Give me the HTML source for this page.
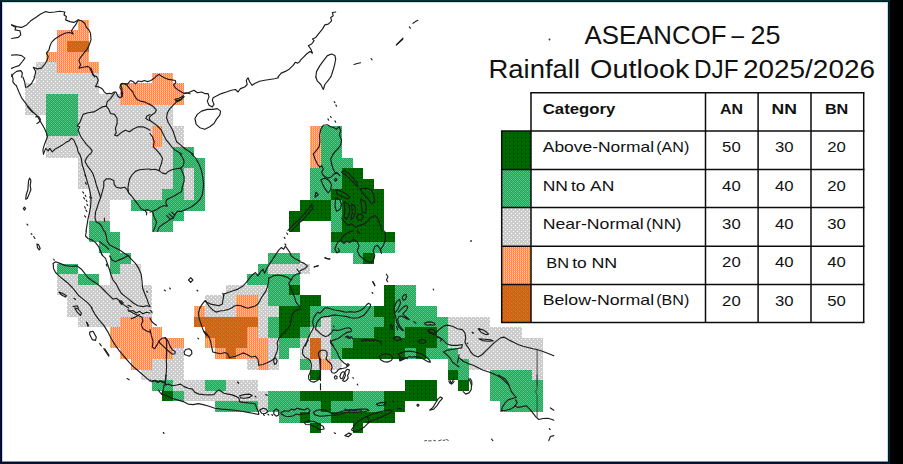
<!DOCTYPE html>
<html><head><meta charset="utf-8"><title>ASEANCOF-25 Rainfall Outlook</title>
<style>
html,body{margin:0;padding:0;background:#fff;}
body{width:903px;height:464px;overflow:hidden;position:relative;font-family:"Liberation Sans",sans-serif;}
#frame{position:absolute;left:0;top:0;width:903px;height:464px;}
svg{position:absolute;left:0;top:0;}
</style></head><body>
<svg id="map" width="903" height="464" viewBox="0 0 903 464">
<defs>
<pattern id="pg" width="4" height="4" patternUnits="userSpaceOnUse"><rect width="4" height="4" fill="#CCCCCC"/><rect x="3" y="1" width="1" height="1" fill="#fff"/><rect x="1" y="3" width="1" height="1" fill="#fff"/></pattern>
<pattern id="pl" width="4" height="4" patternUnits="userSpaceOnUse"><rect width="4" height="4" fill="#339966"/><rect x="0" y="0" width="1" height="1" fill="#33CC66"/><rect x="2" y="0" width="1" height="1" fill="#33CC66"/><rect x="1" y="1" width="1" height="1" fill="#33CC66"/><rect x="3" y="1" width="1" height="1" fill="#33CC66"/><rect x="0" y="2" width="1" height="1" fill="#33CC66"/><rect x="2" y="2" width="1" height="1" fill="#33CC66"/><rect x="1" y="3" width="1" height="1" fill="#33CC66"/><rect x="3" y="3" width="1" height="1" fill="#33CC66"/><rect x="1" y="1" width="1" height="1" fill="#66CC99"/><rect x="3" y="3" width="1" height="1" fill="#66CC99"/></pattern>
<pattern id="pd" width="4" height="4" patternUnits="userSpaceOnUse"><rect width="4" height="4" fill="#006600"/><rect x="1" y="1" width="1" height="1" fill="#003300"/></pattern>
<pattern id="po" width="2" height="2" patternUnits="userSpaceOnUse"><rect width="2" height="2" fill="#FF9966"/><rect x="0" y="1" width="1" height="1" fill="#FFCC66"/><rect x="1" y="1" width="1" height="1" fill="#CC9933"/></pattern>
<pattern id="pb" width="4" height="4" patternUnits="userSpaceOnUse"><rect width="4" height="4" fill="#CC6600"/><rect x="1" y="1" width="1" height="1" fill="#FF6633"/><rect x="3" y="3" width="1" height="1" fill="#FF6633"/><rect x="3" y="1" width="1" height="1" fill="#CC6633"/><rect x="1" y="3" width="1" height="1" fill="#CC6633"/><rect x="0" y="0" width="1" height="1" fill="#CC6633"/><rect x="2" y="2" width="1" height="1" fill="#CC6633"/><rect x="2" y="0" width="1" height="1" fill="#CC6633"/><rect x="0" y="2" width="1" height="1" fill="#CC6633"/></pattern>
</defs>
<rect x="0" y="0" width="903" height="464" fill="#ffffff"/>
<g shape-rendering="crispEdges">
<rect x="78" y="20" width="11" height="10" fill="url(#po)"/>
<rect x="57" y="30" width="32" height="11" fill="url(#po)"/>
<rect x="57" y="41" width="10" height="11" fill="url(#po)"/>
<rect x="67" y="41" width="22" height="11" fill="url(#pb)"/>
<rect x="46" y="52" width="43" height="10" fill="url(#po)"/>
<rect x="36" y="62" width="21" height="11" fill="url(#pg)"/>
<rect x="57" y="62" width="42" height="11" fill="url(#po)"/>
<rect x="36" y="73" width="63" height="10" fill="url(#pg)"/>
<rect x="152" y="73" width="21" height="10" fill="url(#po)"/>
<rect x="25" y="83" width="74" height="11" fill="url(#pg)"/>
<rect x="120" y="83" width="64" height="11" fill="url(#po)"/>
<rect x="25" y="94" width="21" height="11" fill="url(#pg)"/>
<rect x="46" y="94" width="32" height="11" fill="url(#pl)"/>
<rect x="78" y="94" width="42" height="11" fill="url(#pg)"/>
<rect x="120" y="94" width="64" height="11" fill="url(#po)"/>
<rect x="25" y="105" width="21" height="10" fill="url(#pg)"/>
<rect x="46" y="105" width="32" height="10" fill="url(#pl)"/>
<rect x="78" y="105" width="95" height="10" fill="url(#pg)"/>
<rect x="46" y="115" width="32" height="11" fill="url(#pl)"/>
<rect x="78" y="115" width="95" height="11" fill="url(#pg)"/>
<rect x="46" y="126" width="32" height="10" fill="url(#pl)"/>
<rect x="78" y="126" width="74" height="10" fill="url(#pg)"/>
<rect x="152" y="126" width="10" height="10" fill="url(#po)"/>
<rect x="162" y="126" width="22" height="10" fill="url(#pg)"/>
<rect x="310" y="126" width="11" height="10" fill="url(#po)"/>
<rect x="321" y="126" width="21" height="10" fill="url(#pl)"/>
<rect x="46" y="136" width="106" height="11" fill="url(#pg)"/>
<rect x="152" y="136" width="10" height="11" fill="url(#po)"/>
<rect x="162" y="136" width="22" height="11" fill="url(#pg)"/>
<rect x="310" y="136" width="11" height="11" fill="url(#po)"/>
<rect x="321" y="136" width="21" height="11" fill="url(#pl)"/>
<rect x="46" y="147" width="127" height="11" fill="url(#pg)"/>
<rect x="173" y="147" width="21" height="11" fill="url(#pl)"/>
<rect x="310" y="147" width="11" height="11" fill="url(#po)"/>
<rect x="321" y="147" width="21" height="11" fill="url(#pl)"/>
<rect x="78" y="158" width="95" height="10" fill="url(#pg)"/>
<rect x="173" y="158" width="32" height="10" fill="url(#pl)"/>
<rect x="310" y="158" width="11" height="10" fill="url(#po)"/>
<rect x="321" y="158" width="32" height="10" fill="url(#pl)"/>
<rect x="78" y="168" width="95" height="11" fill="url(#pg)"/>
<rect x="173" y="168" width="11" height="11" fill="url(#pl)"/>
<rect x="184" y="168" width="10" height="11" fill="url(#pg)"/>
<rect x="194" y="168" width="11" height="11" fill="url(#pl)"/>
<rect x="310" y="168" width="32" height="11" fill="url(#pl)"/>
<rect x="342" y="168" width="21" height="11" fill="url(#pd)"/>
<rect x="78" y="179" width="95" height="10" fill="url(#pg)"/>
<rect x="173" y="179" width="11" height="10" fill="url(#pl)"/>
<rect x="184" y="179" width="10" height="10" fill="url(#pg)"/>
<rect x="194" y="179" width="11" height="10" fill="url(#pl)"/>
<rect x="310" y="179" width="32" height="10" fill="url(#pl)"/>
<rect x="342" y="179" width="32" height="10" fill="url(#pd)"/>
<rect x="89" y="189" width="73" height="11" fill="url(#pg)"/>
<rect x="162" y="189" width="22" height="11" fill="url(#pl)"/>
<rect x="184" y="189" width="10" height="11" fill="url(#pg)"/>
<rect x="194" y="189" width="11" height="11" fill="url(#pl)"/>
<rect x="310" y="189" width="21" height="11" fill="url(#pl)"/>
<rect x="331" y="189" width="53" height="11" fill="url(#pd)"/>
<rect x="89" y="200" width="21" height="11" fill="url(#pg)"/>
<rect x="131" y="200" width="74" height="11" fill="url(#pl)"/>
<rect x="300" y="200" width="31" height="11" fill="url(#pd)"/>
<rect x="331" y="200" width="11" height="11" fill="url(#pl)"/>
<rect x="342" y="200" width="42" height="11" fill="url(#pd)"/>
<rect x="89" y="211" width="21" height="10" fill="url(#pg)"/>
<rect x="152" y="211" width="32" height="10" fill="url(#pl)"/>
<rect x="289" y="211" width="42" height="10" fill="url(#pd)"/>
<rect x="331" y="211" width="11" height="10" fill="url(#pl)"/>
<rect x="342" y="211" width="42" height="10" fill="url(#pd)"/>
<rect x="89" y="221" width="21" height="11" fill="url(#pl)"/>
<rect x="152" y="221" width="21" height="11" fill="url(#pl)"/>
<rect x="289" y="221" width="11" height="11" fill="url(#pd)"/>
<rect x="331" y="221" width="11" height="11" fill="url(#pl)"/>
<rect x="342" y="221" width="42" height="11" fill="url(#pd)"/>
<rect x="89" y="232" width="31" height="10" fill="url(#pl)"/>
<rect x="331" y="232" width="64" height="10" fill="url(#pd)"/>
<rect x="99" y="242" width="21" height="11" fill="url(#pl)"/>
<rect x="331" y="242" width="64" height="11" fill="url(#pl)"/>
<rect x="110" y="253" width="21" height="11" fill="url(#pl)"/>
<rect x="268" y="253" width="32" height="11" fill="url(#pl)"/>
<rect x="353" y="253" width="10" height="11" fill="url(#pl)"/>
<rect x="363" y="253" width="11" height="11" fill="url(#pd)"/>
<rect x="57" y="264" width="21" height="10" fill="url(#pl)"/>
<rect x="110" y="264" width="10" height="10" fill="url(#pl)"/>
<rect x="120" y="264" width="21" height="10" fill="url(#pg)"/>
<rect x="258" y="264" width="10" height="10" fill="url(#pl)"/>
<rect x="268" y="264" width="42" height="10" fill="url(#pg)"/>
<rect x="57" y="274" width="21" height="11" fill="url(#pg)"/>
<rect x="78" y="274" width="21" height="11" fill="url(#pl)"/>
<rect x="110" y="274" width="31" height="11" fill="url(#pg)"/>
<rect x="247" y="274" width="53" height="11" fill="url(#pl)"/>
<rect x="57" y="285" width="95" height="10" fill="url(#pg)"/>
<rect x="226" y="285" width="42" height="10" fill="url(#pg)"/>
<rect x="268" y="285" width="21" height="10" fill="url(#pl)"/>
<rect x="289" y="285" width="11" height="10" fill="url(#pd)"/>
<rect x="384" y="285" width="11" height="10" fill="url(#pd)"/>
<rect x="395" y="285" width="21" height="10" fill="url(#pl)"/>
<rect x="67" y="295" width="85" height="11" fill="url(#pg)"/>
<rect x="205" y="295" width="31" height="11" fill="url(#pg)"/>
<rect x="236" y="295" width="22" height="11" fill="url(#po)"/>
<rect x="258" y="295" width="10" height="11" fill="url(#pg)"/>
<rect x="268" y="295" width="32" height="11" fill="url(#pl)"/>
<rect x="300" y="295" width="21" height="11" fill="url(#pd)"/>
<rect x="384" y="295" width="11" height="11" fill="url(#pd)"/>
<rect x="395" y="295" width="21" height="11" fill="url(#pl)"/>
<rect x="67" y="306" width="85" height="11" fill="url(#pg)"/>
<rect x="194" y="306" width="11" height="11" fill="url(#po)"/>
<rect x="205" y="306" width="31" height="11" fill="url(#pg)"/>
<rect x="236" y="306" width="22" height="11" fill="url(#po)"/>
<rect x="258" y="306" width="21" height="11" fill="url(#pg)"/>
<rect x="279" y="306" width="31" height="11" fill="url(#pd)"/>
<rect x="310" y="306" width="64" height="11" fill="url(#pl)"/>
<rect x="374" y="306" width="21" height="11" fill="url(#pd)"/>
<rect x="395" y="306" width="42" height="11" fill="url(#pl)"/>
<rect x="78" y="317" width="42" height="10" fill="url(#pg)"/>
<rect x="120" y="317" width="32" height="10" fill="url(#po)"/>
<rect x="194" y="317" width="64" height="10" fill="url(#pb)"/>
<rect x="258" y="317" width="10" height="10" fill="url(#pg)"/>
<rect x="268" y="317" width="11" height="10" fill="url(#pl)"/>
<rect x="279" y="317" width="31" height="10" fill="url(#pd)"/>
<rect x="310" y="317" width="11" height="10" fill="url(#pl)"/>
<rect x="321" y="317" width="10" height="10" fill="url(#pg)"/>
<rect x="331" y="317" width="53" height="10" fill="url(#pl)"/>
<rect x="384" y="317" width="11" height="10" fill="url(#pd)"/>
<rect x="395" y="317" width="53" height="10" fill="url(#pl)"/>
<rect x="448" y="317" width="42" height="10" fill="url(#pg)"/>
<rect x="110" y="327" width="52" height="11" fill="url(#po)"/>
<rect x="205" y="327" width="42" height="11" fill="url(#pb)"/>
<rect x="247" y="327" width="11" height="11" fill="url(#po)"/>
<rect x="258" y="327" width="10" height="11" fill="url(#pg)"/>
<rect x="268" y="327" width="11" height="11" fill="url(#pl)"/>
<rect x="279" y="327" width="21" height="11" fill="url(#pd)"/>
<rect x="300" y="327" width="10" height="11" fill="url(#pl)"/>
<rect x="310" y="327" width="21" height="11" fill="url(#pg)"/>
<rect x="331" y="327" width="43" height="11" fill="url(#pl)"/>
<rect x="374" y="327" width="21" height="11" fill="url(#pd)"/>
<rect x="395" y="327" width="10" height="11" fill="url(#pl)"/>
<rect x="405" y="327" width="32" height="11" fill="url(#pd)"/>
<rect x="437" y="327" width="11" height="11" fill="url(#pl)"/>
<rect x="448" y="327" width="74" height="11" fill="url(#pg)"/>
<rect x="110" y="338" width="74" height="10" fill="url(#po)"/>
<rect x="205" y="338" width="10" height="10" fill="url(#po)"/>
<rect x="215" y="338" width="32" height="10" fill="url(#pb)"/>
<rect x="247" y="338" width="21" height="10" fill="url(#po)"/>
<rect x="268" y="338" width="11" height="10" fill="url(#pg)"/>
<rect x="279" y="338" width="21" height="10" fill="url(#pl)"/>
<rect x="300" y="338" width="10" height="10" fill="url(#pg)"/>
<rect x="310" y="338" width="11" height="10" fill="url(#pb)"/>
<rect x="321" y="338" width="10" height="10" fill="url(#pg)"/>
<rect x="331" y="338" width="22" height="10" fill="url(#pl)"/>
<rect x="353" y="338" width="84" height="10" fill="url(#pd)"/>
<rect x="437" y="338" width="11" height="10" fill="url(#pl)"/>
<rect x="448" y="338" width="95" height="10" fill="url(#pg)"/>
<rect x="120" y="348" width="53" height="11" fill="url(#po)"/>
<rect x="173" y="348" width="11" height="11" fill="url(#pg)"/>
<rect x="215" y="348" width="11" height="11" fill="url(#po)"/>
<rect x="226" y="348" width="10" height="11" fill="url(#pb)"/>
<rect x="236" y="348" width="32" height="11" fill="url(#po)"/>
<rect x="268" y="348" width="11" height="11" fill="url(#pg)"/>
<rect x="279" y="348" width="10" height="11" fill="url(#pl)"/>
<rect x="300" y="348" width="10" height="11" fill="url(#pg)"/>
<rect x="310" y="348" width="11" height="11" fill="url(#pb)"/>
<rect x="321" y="348" width="10" height="11" fill="url(#pg)"/>
<rect x="331" y="348" width="11" height="11" fill="url(#pl)"/>
<rect x="342" y="348" width="63" height="11" fill="url(#pd)"/>
<rect x="405" y="348" width="11" height="11" fill="url(#pl)"/>
<rect x="416" y="348" width="10" height="11" fill="url(#pd)"/>
<rect x="426" y="348" width="32" height="11" fill="url(#pl)"/>
<rect x="458" y="348" width="85" height="11" fill="url(#pg)"/>
<rect x="131" y="359" width="21" height="11" fill="url(#po)"/>
<rect x="152" y="359" width="32" height="11" fill="url(#pg)"/>
<rect x="247" y="359" width="11" height="11" fill="url(#pg)"/>
<rect x="258" y="359" width="10" height="11" fill="url(#po)"/>
<rect x="268" y="359" width="11" height="11" fill="url(#pg)"/>
<rect x="300" y="359" width="10" height="11" fill="url(#pl)"/>
<rect x="310" y="359" width="11" height="11" fill="url(#pg)"/>
<rect x="321" y="359" width="10" height="11" fill="url(#po)"/>
<rect x="331" y="359" width="11" height="11" fill="url(#pg)"/>
<rect x="448" y="359" width="21" height="11" fill="url(#pl)"/>
<rect x="469" y="359" width="74" height="11" fill="url(#pg)"/>
<rect x="141" y="370" width="43" height="10" fill="url(#pg)"/>
<rect x="310" y="370" width="11" height="10" fill="url(#pd)"/>
<rect x="448" y="370" width="10" height="10" fill="url(#pd)"/>
<rect x="458" y="370" width="11" height="10" fill="url(#pl)"/>
<rect x="490" y="370" width="42" height="10" fill="url(#pl)"/>
<rect x="532" y="370" width="11" height="10" fill="url(#pg)"/>
<rect x="152" y="380" width="21" height="11" fill="url(#pl)"/>
<rect x="173" y="380" width="32" height="11" fill="url(#pg)"/>
<rect x="205" y="380" width="21" height="11" fill="url(#pl)"/>
<rect x="226" y="380" width="32" height="11" fill="url(#pg)"/>
<rect x="405" y="380" width="32" height="11" fill="url(#pd)"/>
<rect x="458" y="380" width="11" height="11" fill="url(#pd)"/>
<rect x="490" y="380" width="53" height="11" fill="url(#pl)"/>
<rect x="162" y="391" width="11" height="10" fill="url(#pd)"/>
<rect x="173" y="391" width="11" height="10" fill="url(#pl)"/>
<rect x="184" y="391" width="84" height="10" fill="url(#pg)"/>
<rect x="268" y="391" width="32" height="10" fill="url(#pl)"/>
<rect x="300" y="391" width="53" height="10" fill="url(#pd)"/>
<rect x="353" y="391" width="31" height="10" fill="url(#pl)"/>
<rect x="384" y="391" width="53" height="10" fill="url(#pd)"/>
<rect x="490" y="391" width="53" height="10" fill="url(#pl)"/>
<rect x="215" y="401" width="43" height="11" fill="url(#pl)"/>
<rect x="258" y="401" width="10" height="11" fill="url(#pg)"/>
<rect x="268" y="401" width="53" height="11" fill="url(#pl)"/>
<rect x="321" y="401" width="10" height="11" fill="url(#pd)"/>
<rect x="331" y="401" width="53" height="11" fill="url(#pl)"/>
<rect x="384" y="401" width="21" height="11" fill="url(#pd)"/>
<rect x="500" y="401" width="43" height="11" fill="url(#pl)"/>
<rect x="279" y="412" width="21" height="11" fill="url(#pl)"/>
<rect x="300" y="412" width="10" height="11" fill="url(#pd)"/>
<rect x="310" y="412" width="21" height="11" fill="url(#pl)"/>
<rect x="331" y="412" width="64" height="11" fill="url(#pd)"/>
<rect x="310" y="423" width="11" height="10" fill="url(#pd)"/>
<rect x="353" y="423" width="10" height="10" fill="url(#pd)"/>
</g>
<g id="coast" fill="none" stroke="#1c1c1c" stroke-width="1.15" stroke-linejoin="round" stroke-linecap="round">
<path d="M11.6,24.9 L16.6,26.6 L21.6,27.4 L26.6,24.9 L30.7,20.8 L35.7,17.4 L40.7,14.1 L45.7,11.6 L49.8,12.5 L54.8,12.0 L59.8,11.3 L64.8,12.0 L64.0,15.0 L66.4,16.6 L65.6,19.9 L69.8,21.6 L73.9,22.4 L78.1,19.9 L81.4,20.8 L84.7,23.3 L86.4,27.4 L88.9,29.9 L90.5,33.2 L91.0,39.9 L88.9,45.7 L87.2,49.0 L83.9,53.2 L80.6,57.3 L78.9,60.6 L80.6,64.8 L78.9,68.1 L83.1,67.3 L88.0,66.4 L91.4,68.9 L93.0,73.9 L94.7,77.1"/>
<path d="M11.6,24.9 L15.8,27.4 L15.0,29.9 L19.9,30.7 L20.8,34.9 L18.3,37.4 L11.6,38.5"/>
<path d="M78.1,19.9 L75.6,24.9 L73.1,28.2 L71.4,30.7 L73.1,34.1 L69.8,32.4 L64.8,33.2 L59.8,35.7 L54.8,39.0 L51.5,42.4 L49.8,46.5 L49.0,49.8 L46.5,53.2 L48.2,56.5 L47.3,59.8 L44.9,64.0 L41.5,68.1 L37.4,68.9 L33.2,67.3 L35.7,71.4 L34.9,75.6 L34.1,77.1"/>
<path d="M11.6,55.1 L16.6,54.8 L21.6,55.6 L24.9,58.1 L22.4,61.5 L19.1,65.6 L14.1,67.3 L11.6,68.4"/>
<path d="M11.6,76.4 L13.3,73.9 L16.6,71.4 L20.8,70.6 L22.4,73.1 L21.6,77.1"/>
<path d="M16.3,85.6 L17.9,89.5 L19.6,93.6 L21.6,97.8 L24.6,101.9 L27.4,105.6 L30.7,109.4 L33.2,112.2 L36.9,115.5 L39.5,119.9 L41.9,124.0 L44.5,128.5 L46.5,133.1 L47.5,136.8 L45.8,141.0 L44.2,145.1 L42.9,150.1 L43.5,154.1"/>
<path d="M22.9,77.0 L24.6,81.7 L25.6,87.3 L27.4,87.0 L31.2,84.0 L33.7,79.5 L34.9,77.0"/>
<path d="M27.4,106.6 L29.9,109.4 L32.4,112.2"/>
<path d="M35.7,116.9 L38.5,116.2 L40.4,119.4 L39.0,122.2 L36.9,123.5"/>
<path d="M43.5,154.1 L45.7,148.4 L48.2,150.9 L49.8,148.4 L52.3,151.8 L54.8,149.3 L58.1,147.6 L62.3,145.1 L65.6,142.6 L68.9,141.0 L71.4,138.1 L73.9,140.1 L75.6,144.3 L77.2,147.6 L78.1,151.8 L79.4,154.1"/>
<path d="M114.6,92.8 L110.5,98.6 L107.1,101.9 L106.3,106.1"/>
<path d="M106.3,106.1 L102.2,106.9 L98.0,109.4 L93.9,111.9 L88.0,112.7 L83.1,114.4 L81.4,118.5 L79.7,122.7 L77.2,126.0 L79.7,126.8 L78.1,130.2 L79.7,134.3 L81.4,137.6 L83.9,141.0 L86.4,144.3 L89.7,147.6 L92.2,150.9 L90.5,154.1"/>
<path d="M106.3,106.1 L108.8,109.4 L110.5,113.5 L114.6,114.4 L117.1,118.5 L117.1,123.5 L115.4,128.5 L116.3,132.6 L114.6,135.1 L117.1,136.0 L121.3,132.6 L125.4,130.2 L129.6,131.8 L132.9,129.3 L137.9,126.8 L142.9,126.8 L147.0,128.5 L150.0,130.2"/>
<path d="M122.1,96.9 L121.3,93.6 L122.1,88.6 L120.4,84.5 L123.8,83.6 L127.1,85.3 L129.6,88.6 L132.9,92.0 L134.6,96.1 L137.0,99.4 L140.4,101.1 L144.5,101.9 L147.8,103.6 L150.0,104.4"/>
<path d="M150.0,114.4 L147.0,116.0 L145.8,118.5 L148.7,120.2 L150.0,120.5"/>
<path d="M277.9,77.1 L281.2,73.1 L285.4,71.4 L289.5,68.9 L292.9,65.6 L295.3,62.3 L297.8,63.1 L300.0,61.5"/>
<path d="M300.0,60.6 L303.3,57.3 L306.6,54.0 L310.0,51.5 L312.5,53.2 L310.8,49.0 L308.3,45.7 L311.6,44.0 L314.1,40.7 L312.5,39.0 L315.8,37.4 L319.1,33.2 L322.4,29.1 L324.9,24.9 L328.2,24.1 L331.6,20.8 L330.7,17.4 L333.2,15.8 L332.4,12.5 L335.7,12.0"/>
<path d="M315.8,77.1 L316.6,71.4 L319.9,65.6 L324.1,59.8 L327.4,55.6 L331.6,54.0 L334.9,55.6 L335.7,59.0 L334.6,64.8 L333.2,69.8 L331.6,74.8 L330.7,77.1"/>
<path d="M354.0,64.5 L357.3,63.5 L360.6,62.8"/>
<path d="M371.1,58.5 L372.1,59.8"/>
<path d="M396.3,45.2 L399.7,41.5 L403.0,38.2"/>
<path d="M396.8,44.5 L402.7,39.2"/>
<path d="M409.3,26.9 L410.3,28.2"/>
<path d="M413.0,23.3 L415.4,21.6 L417.9,20.3"/>
<path d="M184.1,93.6 L188.2,92.8 L194.0,90.3 L197.3,92.8 L201.5,92.0 L204.8,93.6 L208.1,93.6 L209.0,96.9 L207.3,101.1 L209.0,105.2 L212.3,106.9 L214.0,104.4 L212.3,100.3 L213.1,97.8 L216.4,96.1 L221.4,93.6 L226.4,92.0 L231.4,90.3 L235.5,89.5 L238.0,92.0 L240.5,88.6 L244.7,87.0 L247.2,84.5 L246.3,80.3 L248.0,77.8 L249.7,82.0 L252.2,85.3 L254.7,83.6 L259.6,81.2 L264.6,80.3 L269.6,79.5 L274.6,78.7 L278.7,77.8"/>
<path d="M194.9,118.5 L197.3,114.4 L201.5,111.1 L207.3,109.4 L213.1,109.4 L217.3,108.6 L220.6,111.1 L219.8,115.2 L216.4,119.4 L214.0,123.5 L209.8,126.8 L204.8,129.3 L199.8,127.7 L196.2,124.3 Z"/>
<path d="M183.2,95.3 L181.6,99.4 L176.6,101.9 L173.3,105.2 L169.9,108.6 L167.4,112.7 L166.6,117.7 L168.3,122.7 L170.8,126.8 L173.3,131.8 L174.9,136.8 L176.6,141.8 L180.7,145.1 L185.7,149.3 L190.7,152.6 L193.2,154.1"/>
<path d="M174.9,99.4 L179.1,98.3 L182.4,96.6"/>
<path d="M175.7,101.1 L180.7,99.4"/>
<path d="M150.0,104.4 L153.3,106.6 L156.3,109.9 L155.0,112.7 L151.7,114.9 L149.2,117.7 L150.0,120.5 L154.2,123.5 L157.5,126.0 L160.8,129.3 L163.3,134.3 L165.8,139.3 L169.1,143.4 L172.4,147.6 L174.9,150.1 L179.1,152.6 L181.6,154.1"/>
<path d="M150.0,133.5 L152.5,136.8 L154.2,141.8 L153.3,146.8 L156.6,150.1 L160.0,154.1"/>
<path d="M315.8,77.0 L317.4,81.2 L320.8,84.5 L323.3,89.5 L324.9,84.5 L328.2,80.3 L330.7,77.0"/>
<path d="M334.2,101.6 L334.9,102.6"/>
<path d="M335.9,104.9 L336.5,106.2"/>
<path d="M327.9,118.9 L328.7,120.2"/>
<path d="M330.4,116.5 L331.2,117.5"/>
<path d="M334.9,120.9 L335.7,122.2"/>
<path d="M313.3,154.1 L316.6,150.1 L319.1,146.8 L319.9,141.8 L319.6,135.1 L320.8,129.3 L323.3,125.2 L327.4,124.8 L330.7,126.8 L334.1,127.7 L336.5,129.3 L339.0,126.8 L340.7,130.2 L339.5,135.1 L341.5,140.1 L340.7,145.1 L338.2,148.4 L334.9,151.8 L333.2,154.1"/>
<path d="M29.6,178.1 L30.9,180.6 L30.2,185.6 L30.9,189.7 L29.2,193.9 L27.2,198.5 L25.7,199.2 L26.2,194.7 L27.9,189.7 L28.2,184.7 L28.6,180.6 Z"/>
<path d="M23.3,208.5 L24.4,207.2 L25.6,208.5 L24.4,210.1 Z"/>
<path d="M26.9,224.1 L27.9,225.1"/>
<path d="M79.7,154.0 L81.4,159.0 L82.2,164.8 L83.9,169.8 L85.5,175.6 L87.2,181.4 L88.9,187.2 L90.5,193.9 L91.0,200.5 L90.5,207.2 L89.4,213.0 L88.0,218.8 L87.2,223.8 L86.0,231.1"/>
<path d="M89.7,154.0 L86.4,158.2 L85.0,161.5 L87.2,165.6 L90.5,169.8 L93.0,173.9 L94.7,178.9 L96.3,184.7 L98.0,189.7 L99.7,194.7 L100.5,198.0 L98.8,202.2 L97.2,207.2 L95.5,212.1 L95.0,218.0 L96.3,222.1 L99.7,223.8 L102.2,227.1 L103.8,231.1"/>
<path d="M100.5,198.0 L102.2,192.2 L103.8,186.4 L103.8,181.4 L106.3,178.9 L110.5,178.9 L113.8,180.6 L114.3,184.7 L116.3,187.2 L120.4,188.1 L124.6,187.2 L127.1,189.7 L128.7,193.0 L131.2,195.5 L133.7,198.9 L136.2,202.2 L138.7,205.5 L141.2,208.8 L144.5,210.5 L147.0,209.6 L150.0,210.5"/>
<path d="M128.7,193.0 L127.9,188.1 L128.7,183.1 L129.6,178.9 L132.1,174.8 L135.4,171.4 L139.5,169.8 L144.5,169.3 L150.0,169.0"/>
<path d="M145.5,211.5 L146.8,212.5 L146.5,214.8"/>
<path d="M82.7,191.9 L83.7,193.2"/>
<path d="M85.2,195.2 L86.0,196.5"/>
<path d="M83.7,197.5 L84.6,198.9"/>
<path d="M86.2,200.2 L87.0,201.5"/>
<path d="M84.6,206.8 L85.4,208.2"/>
<path d="M86.9,204.2 L87.7,205.5"/>
<path d="M84.6,215.8 L85.7,217.1"/>
<path d="M86.0,210.1 L86.9,211.5"/>
<path d="M89.7,196.9 L91.7,197.9"/>
<path d="M85.0,174.8 L85.7,176.4"/>
<path d="M85.5,182.6 L86.4,184.2"/>
<path d="M104.3,218.0 L104.7,221.3"/>
<path d="M191.5,154.0 L195.7,158.2 L199.0,164.0 L201.5,170.6 L202.8,177.3 L203.5,183.9 L203.2,188.9 L202.3,194.7 L199.8,199.7 L195.7,203.8 L190.7,207.2 L185.7,209.6 L181.6,211.3 L177.4,211.3 L174.9,214.6 L173.3,218.0 L169.9,219.6 L166.6,222.1 L162.5,224.6 L159.1,227.1 L157.5,231.1"/>
<path d="M166.6,215.5 L170.8,219.6"/>
<path d="M169.1,213.8 L173.3,218.0"/>
<path d="M171.6,212.1 L174.9,215.5"/>
<path d="M179.9,154.0 L182.4,157.3 L184.1,161.5 L183.2,165.6 L180.7,168.1 L182.4,172.3 L184.1,176.4 L184.1,181.4 L182.4,186.4 L181.6,191.4 L177.4,193.9 L173.3,196.4 L169.9,198.0 L166.6,199.7 L165.8,203.0 L167.4,206.3 L164.1,205.5 L160.0,207.2 L156.6,209.6 L152.5,211.3 L150.0,212.1"/>
<path d="M150.0,169.8 L155.0,169.3 L159.1,170.6 L162.5,173.1 L165.8,173.9 L168.3,171.4 L171.6,169.8 L174.9,169.0 L180.7,168.1"/>
<path d="M160.0,154.0 L162.5,158.2 L161.6,163.1 L160.0,167.3 L159.1,170.6"/>
<path d="M152.5,211.3 L154.2,217.1 L156.6,222.1 L155.0,227.1 L153.3,231.1"/>
<path d="M300.0,218.8 L294.5,223.8 L287.9,230.4"/>
<path d="M300.0,222.1 L295.3,227.1 L291.2,231.1"/>
<path d="M313.3,154.0 L315.0,159.0 L317.4,164.0 L319.9,167.3 L321.6,165.6 L323.3,169.0 L321.6,172.3 L323.3,175.6 L327.4,178.1 L330.7,177.3 L334.1,173.9 L337.4,173.1 L339.9,175.6"/>
<path d="M333.2,154.0 L330.7,159.0 L331.6,164.0 L333.2,169.0 L334.9,172.3 L337.4,173.1"/>
<path d="M320.8,179.7 L324.9,178.1 L329.1,180.6 L331.6,184.7 L330.7,189.7 L328.2,193.0 L325.7,189.7 L323.3,185.6 Z"/>
<path d="M315.8,192.2 L318.3,194.7 L315.0,197.2 Z"/>
<path d="M334.4,179.7 L335.7,178.4 L337.0,179.7 L335.7,181.1 Z"/>
<path d="M341.5,172.3 L346.5,175.6 L351.5,180.6 L355.6,184.7 L358.1,187.2 L356.5,182.2 L352.3,177.3 L348.2,173.1 L344.0,170.6 Z"/>
<path d="M359.8,188.9 L366.4,188.1 L371.4,189.7 L373.9,195.5 L374.8,202.2 L371.4,203.8 L368.1,198.9 L364.0,194.7 Z"/>
<path d="M335.7,189.7 L341.5,191.4 L346.5,193.9 L349.8,197.2 L347.3,198.9 L342.4,196.4 L337.4,194.7 Z"/>
<path d="M335.7,198.0 L339.9,199.7 L341.5,204.7 L339.9,209.6 L336.5,211.3 L334.9,206.3 Z"/>
<path d="M344.0,202.2 L348.2,203.8 L349.8,208.8 L349.0,214.6 L346.5,219.6 L344.0,217.1 L344.9,210.5 Z"/>
<path d="M351.5,203.8 L354.8,206.3 L355.6,212.1 L353.2,218.0 L350.7,219.6 L352.3,213.0 Z"/>
<path d="M360.6,198.9 L364.8,201.3 L366.4,207.2 L365.6,213.0 L362.3,212.1 L361.5,205.5 Z"/>
<path d="M356.5,217.1 L358.1,214.6 L361.5,214.1 L363.5,216.8 L361.8,219.6 L358.5,220.1 Z"/>
<path d="M341.5,218.0 L344.9,222.1 L348.2,225.4 L351.5,223.8 L355.6,227.1 L359.8,225.4 L364.8,223.8 L368.1,220.4 L371.4,217.1 L374.8,215.5 L378.1,218.8 L379.7,223.8 L381.4,228.8 L382.2,231.1"/>
<path d="M300.0,218.8 L304.2,213.8 L307.5,209.6 L310.0,207.2 L311.6,203.8 L312.5,208.8 L309.1,212.1 L305.8,216.3 L302.5,220.4 L300.0,222.1"/>
<path d="M31.2,233.7 L31.9,234.3"/>
<path d="M33.7,236.5 L34.9,238.5"/>
<path d="M36.9,244.0 L38.5,244.6 L40.2,248.4 L39.2,249.9 L37.5,247.6 Z"/>
<path d="M86.4,231.0 L85.5,236.0 L88.0,238.5 L92.2,240.1 L95.5,242.6 L98.8,246.8 L100.5,251.8 L102.2,255.1 L105.5,258.4 L107.6,264.2 L109.6,270.0 L111.0,275.0 L113.0,280.0 L116.3,284.2 L118.8,289.1 L121.3,293.3 L125.4,296.6 L129.6,299.9 L133.7,303.3 L137.9,305.8 L142.9,306.6 L147.0,305.8 L150.0,306.6"/>
<path d="M104.7,231.0 L106.3,236.0 L107.1,241.0 L109.6,245.1 L114.6,247.6 L119.6,250.1 L124.6,253.4 L128.7,255.9 L131.2,259.2 L135.4,263.4 L138.7,268.4 L141.2,274.2 L142.0,280.8 L142.5,287.5 L144.5,293.3 L147.0,299.1 L148.7,304.1 L150.0,306.6"/>
<path d="M109.6,255.9 L112.1,260.1 L115.4,261.7 L118.8,260.1 L122.9,258.4 L127.1,255.9 L128.7,255.9"/>
<path d="M99.7,241.8 L103.0,244.3 L106.3,246.8 L108.8,249.3"/>
<path d="M100.5,250.9 L102.2,255.1"/>
<path d="M106.3,264.2 L107.1,266.2"/>
<path d="M53.2,263.4 L55.6,261.7 L59.8,263.4 L65.6,265.6 L71.4,266.2 L77.2,265.9 L81.4,269.2 L84.7,273.4 L88.0,277.5 L92.2,280.8 L96.3,283.3 L100.5,286.6 L103.8,290.0 L107.1,293.3 L110.5,296.6 L113.0,299.1 L116.3,298.3 L119.6,300.8 L122.9,304.1 L126.2,306.6 L128.7,308.1"/>
<path d="M53.2,263.4 L53.5,268.4 L55.6,272.5 L59.0,275.9 L63.1,279.2 L68.1,283.3 L72.3,287.5 L75.6,291.6 L78.9,295.8 L83.1,299.1 L87.2,302.4 L90.5,305.8 L92.2,308.1"/>
<path d="M53.7,259.2 L54.3,260.1"/>
<path d="M59.0,292.1 L62.3,293.3 L66.4,295.8 L65.6,297.1 L61.5,295.0 Z"/>
<path d="M73.9,298.3 L75.6,299.4"/>
<path d="M73.1,306.6 L77.2,305.8 L78.4,308.1"/>
<path d="M119.3,301.6 L121.3,300.8 L123.3,302.8 L121.6,304.4 Z"/>
<path d="M146.7,291.3 L147.5,292.1"/>
<path d="M127.9,305.3 L131.2,306.6"/>
<path d="M199.8,308.1 L202.3,304.1 L204.8,300.8 L207.3,302.4 L210.6,304.1 L214.8,304.9 L218.9,305.8 L222.3,304.1 L223.1,299.1 L223.9,294.1 L228.1,292.5 L233.1,290.8 L238.0,289.1 L242.2,286.6 L245.5,283.3 L248.8,279.2 L252.2,275.0 L255.5,272.5 L258.0,275.9 L260.5,271.7 L263.0,269.2 L264.6,273.4 L266.3,269.2 L268.8,265.1 L272.1,260.1 L275.4,255.1 L278.7,250.1 L281.2,247.6 L283.7,249.3 L285.4,246.0 L287.0,248.4 L289.5,251.8 L291.2,255.9 L294.5,258.4 L297.8,260.1 L300.0,260.9"/>
<path d="M268.8,278.3 L272.9,275.9 L277.9,275.0 L282.9,275.9 L287.9,277.5 L291.2,280.0 L292.9,276.7 L296.2,274.2 L300.0,273.4"/>
<path d="M291.2,280.0 L288.7,283.3 L290.4,287.5 L292.9,292.5 L294.5,297.4 L296.2,302.4 L298.7,305.8 L300.0,306.6"/>
<path d="M297.0,269.2 L298.7,271.7 L300.0,272.5"/>
<path d="M188.5,280.0 L190.7,277.7 L192.9,280.0 L190.7,282.3 Z"/>
<path d="M164.3,290.0 L165.3,290.8"/>
<path d="M169.6,288.0 L170.4,288.8"/>
<path d="M197.0,290.1 L197.8,291.0"/>
<path d="M284.2,237.3 L285.0,238.3"/>
<path d="M286.7,233.0 L287.7,234.3"/>
<path d="M284.9,244.0 L285.9,245.0"/>
<path d="M222.8,293.3 L223.8,295.5"/>
<path d="M335.7,246.8 L337.4,242.6 L340.7,240.1 L344.0,243.5 L346.5,241.0 L349.8,242.6 L353.2,239.3 L357.3,241.8 L359.0,246.0 L357.3,250.9 L359.8,255.9 L364.0,259.2 L368.1,261.7 L371.4,262.6 L373.9,259.2 L374.8,255.1 L373.1,250.9 L374.8,246.8 L377.2,245.1 L379.7,248.4 L381.4,253.4 L380.6,249.3 L383.1,246.0 L384.7,241.8 L385.5,236.8 L384.7,231.0"/>
<path d="M335.7,246.8 L334.9,249.3 L336.9,252.9 L339.5,251.3 L338.2,248.4"/>
<path d="M340.7,240.1 L343.2,236.0 L346.5,233.5 L349.8,231.8 L353.2,231.0"/>
<path d="M357.3,231.0 L359.8,233.5"/>
<path d="M324.9,257.6 L327.4,258.6 L329.9,258.9"/>
<path d="M325.2,258.2 L329.6,259.2"/>
<path d="M314.1,267.2 L316.3,266.2 L318.3,265.6"/>
<path d="M314.3,266.5 L317.9,266.0"/>
<path d="M300.0,261.7 L304.2,263.4 L307.5,265.9 L305.0,268.4 L301.7,270.0 L300.0,270.9"/>
<path d="M386.4,274.2 L388.0,276.7 L386.4,280.0 L387.7,281.7"/>
<path d="M372.6,281.7 L373.8,283.8 L374.8,285.8"/>
<path d="M373.1,281.8 L374.9,285.2"/>
<path d="M372.1,292.5 L372.8,293.3"/>
<path d="M433.1,289.1 L433.7,289.8"/>
<path d="M91.4,308.0 L94.7,313.8 L98.8,319.6 L103.8,325.4 L108.0,332.1 L111.3,338.7 L115.4,345.4 L119.6,351.2 L124.6,357.0 L129.6,362.8 L134.6,367.8 L140.4,372.8 L145.3,376.9 L150.0,381.1"/>
<path d="M74.8,308.0 L78.1,308.8 L81.4,313.0 L80.6,315.5 L77.2,312.2 Z"/>
<path d="M86.4,322.1 L87.4,324.3 L88.0,326.3"/>
<path d="M87.0,322.6 L88.4,325.6"/>
<path d="M89.7,332.1 L93.0,331.3 L96.3,337.1 L95.5,340.4 L92.2,339.6 L89.7,334.6 Z"/>
<path d="M99.7,343.7 L101.3,345.9"/>
<path d="M103.8,348.7 L106.3,352.5 L108.8,356.2"/>
<path d="M104.7,348.9 L109.0,355.2"/>
<path d="M127.1,378.6 L129.2,379.8"/>
<path d="M127.9,309.7 L132.9,313.0 L137.9,315.5 L142.0,317.1 L142.9,321.3 L141.2,324.6 L142.9,328.8 L147.0,331.3 L150.0,332.1"/>
<path d="M128.7,311.3 L132.9,310.5 L136.2,313.0 L139.5,311.3 L142.9,313.8 L146.2,312.2 L150.0,313.0"/>
<path d="M131.2,318.8 L135.4,317.1 L139.5,314.6"/>
<path d="M150.0,318.0 L151.3,321.0 L154.2,323.8 L156.3,325.3"/>
<path d="M150.0,310.5 L151.7,311.3 L152.0,313.0"/>
<path d="M150.0,329.6 L151.3,335.4 L153.0,341.2 L152.3,347.0 L154.7,348.7 L157.0,344.9 L159.1,340.9 L162.0,338.2 L165.3,337.6 L166.6,340.4 L166.6,346.2 L166.6,352.9 L166.3,359.5 L166.6,366.1 L166.3,372.8 L165.8,377.8 L165.0,381.9 L165.8,385.1"/>
<path d="M165.3,337.6 L167.9,340.9 L169.9,345.9 L172.4,349.9 L175.2,351.5 L174.9,353.7 L172.4,354.2 L169.1,351.5 L165.8,348.7 L162.5,345.4 L160.0,343.2 L159.1,340.9"/>
<path d="M184.1,352.0 L185.7,349.5 L189.0,348.7 L191.5,350.4 L191.9,353.7 L189.5,356.2 L186.5,355.3 L184.6,354.5 Z"/>
<path d="M197.8,338.1 L198.7,338.9"/>
<path d="M199.8,308.0 L198.5,313.0 L199.0,318.0 L200.7,323.0 L202.3,327.9 L204.0,332.1 L206.5,333.7 L209.0,337.1 L210.6,341.2 L211.5,346.2 L212.8,352.0 L216.4,352.9 L220.6,353.7 L224.8,352.5 L227.7,353.7 L229.4,357.8 L232.2,357.0 L235.5,356.2 L239.7,354.5 L243.0,352.9 L247.2,354.5 L251.3,357.0 L255.5,356.2 L258.0,359.5 L258.8,365.3 L263.0,364.5 L267.1,362.8 L271.3,360.8 L274.3,358.7 L275.4,355.3 L277.1,351.2 L277.9,347.0 L277.1,342.9 L278.7,338.7 L281.2,335.4 L284.6,332.1 L287.9,328.8 L290.4,324.6 L291.2,319.6 L292.0,314.6 L294.5,311.3 L297.8,309.7 L300.0,308.8"/>
<path d="M273.8,358.7 L275.4,357.8 L277.1,360.3 L276.2,363.6 L274.6,364.5 L273.8,362.0 Z"/>
<path d="M204.0,331.3 L205.6,332.9 L207.3,335.4 L205.6,334.6 Z"/>
<path d="M151.7,381.1 L155.0,380.3 L158.3,381.9 L161.6,381.1 L165.0,382.8"/>
<path d="M237.7,382.4 L238.5,383.2"/>
<path d="M436.5,332.1 L438.6,329.9 L441.5,327.8 L444.1,325.9 L447.4,325.1 L452.4,326.3 L457.4,328.8 L462.4,329.6 L464.9,332.9 L465.7,337.9 L464.9,342.1 L466.5,345.4 L469.0,348.7 L470.7,352.0 L474.0,355.3 L478.2,357.0 L482.3,354.5 L485.6,351.2 L489.0,347.9 L491.5,345.4 L494.0,342.9 L497.3,340.4 L500.6,337.9 L503.9,337.1 L508.1,339.6 L513.1,342.1 L518.0,344.5 L523.0,346.2 L528.0,347.5 L533.0,348.7 L537.1,349.5 L543.0,351.5 L548.8,353.7 L553.8,355.8"/>
<path d="M478.2,328.8 L482.3,329.6 L486.5,332.1 L488.5,334.2 L485.6,334.6 L481.5,332.6 Z"/>
<path d="M479.0,338.7 L484.8,339.2 L490.6,339.9 L493.1,340.9 L488.1,341.2 L482.3,340.6 Z"/>
<path d="M472.5,332.3 L473.4,333.1"/>
<path d="M437.5,337.1 L441.6,338.7 L446.6,343.7 L451.6,345.4 L457.4,345.4 L462.4,344.5 L461.6,347.9 L456.6,348.7 L451.6,349.5 L446.6,350.4 L443.3,352.0 L446.6,354.5 L449.9,357.8 L452.4,362.0 L456.6,365.3 L459.1,367.0"/>
<path d="M459.1,354.5 L458.2,359.5 L457.4,362.8"/>
<path d="M459.1,357.8 L463.2,361.2 L468.2,363.6 L473.2,365.3 L478.2,367.8 L483.2,370.3 L489.0,372.0 L494.8,374.4 L499.8,376.9 L503.9,380.3 L507.2,383.6 L508.9,385.1"/>
<path d="M537.1,349.5 L537.1,385.1" stroke-width="0.9" stroke="#3a3a3a"/>
<path d="M165.8,375.0 L165.8,379.2 L165.0,383.3 L162.5,382.5 L160.0,380.8 L157.5,382.5 L155.0,380.8 L151.7,381.6 L150.0,380.0"/>
<path d="M158.3,390.0 L160.0,392.4 L161.6,394.1"/>
<path d="M164.1,385.0 L168.3,384.1 L172.4,385.8 L176.6,385.0 L180.7,384.1 L184.1,386.6 L188.2,388.3 L192.4,389.1 L194.9,392.4 L199.0,394.1 L204.0,394.6 L209.0,394.9 L214.0,394.6 L216.4,391.6 L218.9,390.0 L221.4,391.6 L223.9,393.3 L228.1,394.1 L232.2,394.9 L236.4,396.6 L238.9,398.3 L239.7,401.6 L243.0,402.4 L248.0,402.9 L252.2,403.2 L255.5,404.1 L256.3,407.4 L258.0,410.7 L258.8,414.0"/>
<path d="M239.7,395.8 L243.9,394.6 L248.8,394.1 L252.2,395.3 L249.7,397.4 L244.7,398.3 L240.5,397.9 Z"/>
<path d="M161.6,394.1 L166.6,395.8 L171.6,398.3 L177.4,399.9 L183.2,401.6 L188.2,404.1 L193.2,404.6 L198.2,403.6 L203.2,404.6 L209.0,406.2 L214.8,408.2 L221.4,409.1 L228.1,409.6 L234.7,410.2 L241.4,411.2 L248.0,412.4 L253.8,413.5 L258.8,414.5"/>
<path d="M161.6,394.1 L163.0,390.8 L164.1,385.0"/>
<path d="M259.6,409.9 L263.0,408.2 L266.3,409.1 L267.9,411.5 L265.4,413.5 L261.6,413.2 Z"/>
<path d="M263.5,414.5 L264.3,415.4"/>
<path d="M267.9,414.2 L268.8,415.0"/>
<path d="M271.8,414.5 L272.6,415.4"/>
<path d="M273.8,410.7 L276.2,409.1 L278.7,410.7 L278.7,414.9 L276.2,416.2 L273.8,414.0 Z"/>
<path d="M281.2,412.4 L284.6,410.7 L288.7,411.2 L291.2,409.1 L294.5,409.9 L297.0,408.2 L300.0,409.1"/>
<path d="M281.2,412.4 L281.2,414.0 L285.4,416.2 L289.5,416.5 L293.7,415.7 L296.2,414.0 L300.0,414.9"/>
<path d="M237.7,382.1 L238.5,383.0"/>
<path d="M255.1,396.3 L256.0,397.1"/>
<path d="M265.6,394.6 L267.3,395.3"/>
<path d="M163.3,432.5 L164.1,433.3"/>
<path d="M313.3,412.4 L316.6,410.2 L321.6,409.6 L326.6,410.7 L330.7,412.9 L334.9,414.0 L339.0,412.4 L344.0,410.7 L349.0,409.9 L354.8,409.6 L360.6,409.1 L366.4,409.1 L368.9,410.2 L365.6,411.5 L359.8,411.9 L354.8,412.4 L349.8,411.9 L344.9,412.4 L339.9,414.5 L335.7,415.2 L330.7,415.2 L324.9,415.9 L319.9,416.2 L315.0,414.9 Z"/>
<path d="M344.9,409.1 L348.2,410.7 L351.5,409.6 L354.8,410.9 L358.1,409.6 L361.5,410.5"/>
<path d="M300.0,409.1 L304.2,409.9 L307.5,408.2 L310.0,410.7 L308.3,413.5 L304.2,414.0 L300.0,414.5"/>
<path d="M304.2,422.3 L308.3,420.7 L314.1,421.5 L319.1,424.0 L323.3,426.5 L324.1,429.0 L319.9,429.8 L315.8,427.3 L310.0,424.8 L305.8,424.5 Z"/>
<path d="M351.5,429.8 L354.8,424.8 L359.0,420.7 L364.8,417.4 L371.4,414.5 L378.1,412.4 L384.7,410.7 L390.5,409.9 L392.2,411.5 L388.0,414.0 L382.2,416.5 L376.4,419.0 L371.4,420.7 L368.1,423.2 L364.0,427.3 L359.0,430.6 L354.0,431.5 Z"/>
<path d="M367.3,417.4 L368.9,419.9 L368.1,422.3"/>
<path d="M344.9,435.6 L349.0,433.1 L351.5,434.0 L348.2,436.8 Z"/>
<path d="M334.2,432.8 L335.5,433.5"/>
<path d="M376.4,404.1 L381.4,402.4 L386.4,402.9 L383.1,405.2 L378.1,405.7 Z"/>
<path d="M392.7,401.2 L393.7,402.1"/>
<path d="M398.0,408.2 L401.3,409.1"/>
<path d="M416.8,405.2 L417.9,404.1 L419.1,405.2 L417.9,406.4 Z"/>
<path d="M429.6,410.2 L432.9,407.4 L435.4,403.2 L437.9,399.1 L440.4,396.9 L442.5,398.3 L439.5,401.6 L437.0,405.7 L433.7,409.1 Z"/>
<path d="M424.6,440.9 L426.6,440.4" stroke-width="0.9" stroke="#3a3a3a"/>
<path d="M428.7,440.8 L431.2,440.9" stroke-width="0.9" stroke="#3a3a3a"/>
<path d="M433.7,440.4 L435.4,440.8" stroke-width="0.9" stroke="#3a3a3a"/>
<path d="M438.7,440.8 L441.2,440.0" stroke-width="0.9" stroke="#3a3a3a"/>
<path d="M443.2,440.4 L444.9,440.1" stroke-width="0.9" stroke="#3a3a3a"/>
<path d="M446.2,439.5 L448.3,440.3" stroke-width="0.9" stroke="#3a3a3a"/>
<path d="M498.1,375.0 L501.4,376.7 L505.6,379.2 L508.1,383.3 L509.7,387.5 L511.4,391.6 L513.9,394.9 L516.4,397.4 L513.1,398.3 L508.1,399.9 L504.8,403.2 L502.3,407.4 L501.4,410.7 L505.6,410.2 L510.6,409.1 L514.7,406.6 L517.2,402.4 L515.5,399.9"/>
<path d="M514.7,405.7 L518.0,407.4 L522.2,406.6 L526.3,405.7 L529.7,409.1 L533.0,413.2 L536.3,417.4 L538.8,419.5 L543.0,418.5 L547.9,418.2 L552.1,419.5 L553.8,420.2"/>
<path d="M537.1,375.0 L537.1,389.1 L535.6,391.6 L537.1,394.9 L537.1,417.4" stroke-width="0.9" stroke="#3a3a3a"/>
<path d="M550.4,407.9 L553.8,410.2"/>
<path d="M549.3,428.7 L550.1,429.5"/>
<path d="M548.8,440.6 L550.4,436.5 L553.8,435.6"/>
<path d="M491.5,439.0 L492.8,440.6"/>
<path d="M449.9,380.0 L451.6,384.1 L454.1,381.6"/>
<path d="M463.2,391.6 L465.7,394.1 L469.0,392.9 L471.2,389.6 L471.5,385.0 L469.9,380.8 L468.5,379.2"/>
<path d="M205.5,300.5 L206.6,302.7 L209.4,306.6 L212.7,309.9 L216.0,312.1 L219.9,311.0 L224.3,310.5 L228.8,309.3 L232.1,307.7 L234.3,306.0 L237.6,305.2 L240.9,305.7 L244.3,307.1 L248.1,308.2 L251.5,307.1 L255.3,306.0 L258.1,303.8 L259.8,301.0 L261.4,297.7 L263.6,294.4 L265.9,291.1 L267.5,286.6 L268.6,282.2 L268.8,278.3"/>
<path d="M313.8,327.1 L312.7,322.7 L313.3,318.8 L315.5,314.9 L317.7,312.2 L319.9,313.3 L322.1,311.1 L324.3,308.3 L327.1,307.7 L330.4,308.8 L334.3,310.0 L338.2,310.5 L342.1,311.4 L345.9,312.2 L350.4,311.6 L354.2,312.2 L358.1,311.4 L361.4,310.0 L364.2,307.7 L366.4,305.0 L368.6,303.3 L370.6,304.4 L370.3,306.6 L368.6,309.4 L366.4,312.2 L364.2,314.9 L361.4,316.6 L358.1,317.7 L354.2,318.3 L350.4,317.7 L347.0,316.6 L342.6,316.0 L338.7,315.5 L334.3,314.9 L331.0,315.5 L328.2,316.6 L324.3,316.6 L321.0,317.7 L318.8,319.9 L316.6,323.2 L316.0,326.6 L315.5,329.3 L317.7,331.0 L319.9,333.2 L322.7,335.4 L325.5,336.5 L328.2,335.8 L330.4,333.8 L332.1,331.5 L333.2,329.9 L336.5,330.4 L339.3,330.2 L342.1,329.3 L345.4,328.2 L348.7,327.7 L350.9,328.8 L351.5,331.0 L349.8,332.1 L347.6,332.1 L345.4,333.2 L343.2,334.9 L340.4,337.1 L337.6,338.7 L334.3,339.9 L331.5,341.0 L330.4,342.6 L331.5,344.3 L333.2,346.1"/>
<path d="M313.8,327.1 L312.7,329.3 L311.6,331.5 L310.0,334.3 L308.3,337.6 L307.2,341.0 L306.1,344.3 L305.5,346.1"/>
<path d="M333.4,326.2 L334.1,326.9"/>
<path d="M345.4,337.1 L347.6,336.0 L349.8,337.6 L351.5,336.5 L352.6,338.7"/>
<path d="M347.0,337.6 L350.4,338.4"/>
<path d="M361.4,340.4 L365.9,339.3 L370.3,340.4 L374.7,339.9 L379.2,341.0 L380.8,341.5"/>
<path d="M362.6,341.0 L368.1,340.2 L372.5,340.6"/>
<path d="M380.3,341.5 L381.2,344.3"/>
<path d="M308.3,340.0 L306.1,343.3 L303.9,346.6 L302.5,350.5 L302.8,354.4 L305.0,357.2 L308.3,358.8 L310.5,361.0 L311.4,364.9 L311.1,368.8 L310.0,372.7 L308.5,376.0 L308.8,379.3 L311.1,381.5 L313.8,382.1 L316.6,381.0 L318.8,379.3 L319.9,376.5 L320.2,372.1 L320.2,367.7 L319.9,363.3 L319.6,358.8 L318.8,355.5 L318.3,353.3 L319.9,351.1 L322.7,350.0 L325.5,350.5 L327.1,352.7 L326.9,356.1 L326.0,358.8 L327.7,361.0 L329.9,362.7 L331.5,364.9 L332.1,367.7 L331.0,370.5 L332.1,372.7 L334.3,373.2 L336.5,372.1 L338.2,369.9 L340.4,368.6 L343.2,368.2 L345.9,367.7 L347.6,366.0 L346.5,364.4 L344.3,363.3 L342.6,361.6 L340.4,359.4 L338.7,356.6 L337.6,353.3 L336.0,350.5 L334.3,347.8 L332.7,345.0 L331.0,342.2 L330.4,340.0"/>
<path d="M320.5,358.8 L320.5,380.4"/>
<path d="M320.5,383.7 L320.5,389.8"/>
<path d="M334.3,377.1 L335.4,375.7 L337.1,376.5 L336.9,378.8 L335.1,379.0 Z"/>
<path d="M339.9,376.5 L341.0,373.2 L343.2,371.6 L344.8,372.7 L343.7,375.4 L342.6,378.2 L341.0,378.8 Z"/>
<path d="M344.8,372.1 L347.0,369.3 L349.3,369.9 L349.0,372.7 L347.6,375.4 L348.2,378.2 L346.5,380.4 L344.3,381.5 L342.6,380.4 L344.3,378.2 L345.4,375.4 Z"/>
<path d="M352.9,377.7 L353.5,378.2"/>
<path d="M357.2,384.1 L357.9,385.0"/>
<path d="M346.6,364.9 L347.9,363.6 L349.3,364.9 L347.9,366.2 Z"/>
<path d="M379.2,356.6 L382.5,354.4 L386.9,353.8 L390.8,355.0 L393.0,357.7 L391.3,360.5 L387.5,362.1 L383.6,361.6 L380.3,359.4 Z"/>
<path d="M402.1,297.8 L403.8,295.0 L406.0,294.4 L406.6,296.6 L405.2,299.4 L403.3,300.2 Z"/>
<path d="M399.4,299.4 L397.2,301.1 L395.5,303.8 L394.4,307.2 L393.8,310.5 L395.0,312.7 L396.6,311.0 L398.3,308.3 L399.9,305.0 L400.5,302.2 Z"/>
<path d="M398.3,312.1 L401.0,309.4 L403.8,306.6 L406.6,305.5 L407.7,307.2 L406.6,309.9 L404.4,312.1 L402.7,313.8 L404.9,316.0 L407.7,318.2 L409.3,319.7 L406.6,318.8 L403.8,317.1 L401.0,316.0 L398.8,316.6 L397.7,319.3 L398.3,322.7 L399.9,326.0 L402.1,328.8 L403.8,330.8 L401.6,329.9 L399.4,327.7 L397.7,324.9 L396.6,322.1 L396.1,318.8 L395.5,316.0 L394.4,313.3"/>
<path d="M391.1,324.3 L392.7,327.1 L392.2,329.3 L390.5,327.7 Z"/>
<path d="M396.6,326.5 L397.7,329.9"/>
<path d="M393.8,337.6 L396.6,336.5 L399.9,337.6 L401.0,339.3"/>
<path d="M413.8,321.6 L416.0,323.2"/>
<path d="M424.3,323.2 L427.1,322.1 L430.4,321.9 L433.7,322.7 L435.4,324.3 L433.2,325.2 L430.4,324.6 L427.6,325.2 L425.4,324.6 Z"/>
<path d="M427.6,330.4 L430.9,329.3 L434.3,330.4 L435.4,332.6 L433.7,334.9 L431.5,333.7 L429.3,332.6 Z"/>
<path d="M428.7,331.2 L433.2,333.2"/>
<path d="M436.5,332.1 L435.4,334.3 L437.0,336.5 L439.8,337.6 L441.5,339.3 L440.7,341.1"/>
<path d="M472.1,332.3 L472.8,333.0"/>
<path d="M478.9,328.5 L480.0,329.6"/>
<path d="M398.3,354.4 L401.0,352.7 L404.9,351.6 L409.3,351.1 L413.2,351.6 L417.1,352.5 L421.0,353.8 L424.3,355.5 L427.1,357.7 L429.8,360.5 L430.4,362.1 L427.6,361.6 L424.9,359.9 L422.1,358.3 L418.8,357.1 L415.4,356.6 L412.1,357.1 L409.3,356.6 L407.1,357.7 L404.9,358.8 L402.1,359.9 L399.9,361.0 L399.4,358.8 L400.5,356.6 Z"/>
<path d="M399.4,357.1 L402.1,358.3 L405.5,357.7 L407.1,358.8"/>
<path d="M399.9,359.9 L403.8,358.5"/>
<path d="M393.3,338.3 L396.6,336.7 L399.9,337.4 L401.0,339.4 L398.3,340.5 L395.0,340.0 Z"/>
<path d="M418.2,341.1 L421.5,339.4 L424.9,340.0 L426.0,341.9 L423.2,343.3 L419.9,343.0 Z"/>
<path d="M467.3,343.1 L467.8,343.6"/>
<path d="M448.7,381.0 L450.3,383.7 L452.0,382.1 L453.6,379.3"/>
<path d="M468.6,379.3 L470.3,378.7 L471.7,381.0 L471.9,384.3 L471.4,386.1"/>
<path d="M127.7,83.8 L130.4,80.5 L133.2,81.6 L135.4,83.8 L138.2,81.0 L141.5,81.6 L144.3,80.5 L147.6,81.6 L150.9,80.5 L154.2,78.3 L156.4,76.1 L159.2,74.4 L162.0,76.6 L165.3,78.3 L168.6,79.4 L171.9,79.9 L175.3,80.5 L175.8,82.7 L173.6,84.9 L175.3,87.7 L178.0,89.9 L180.8,91.6 L183.6,93.2 L186.3,92.7 L190.0,93.8"/>
<path d="M90.0,68.3 L91.7,72.2 L93.3,75.5 L96.6,76.6 L98.3,79.9 L97.2,83.3 L95.5,86.6 L97.8,86.6 L100.5,87.7 L102.7,89.3 L104.4,92.1 L106.6,93.8 L109.4,93.2 L111.6,93.8 L113.8,92.1 L116.0,92.1 L117.7,96.0 L119.9,97.7 L122.1,96.5 L122.7,93.2 L121.6,90.5 L119.9,87.7 L120.5,84.9 L122.1,83.3 L124.9,83.8 L127.7,83.8"/>
<path d="M175.3,99.9 L178.6,100.8 L181.9,98.8 L184.1,96.5"/>
<path d="M11.7,74.4 L13.1,78.8 L12.8,81.6 L14.7,84.4 L16.4,85.7"/>
</g>
<g fill="#2a2a2a"><circle cx="549.5" cy="39.5" r="0.9"/><circle cx="471" cy="241" r="0.9"/></g>
<g id="legend">
<rect x="501.7" y="131.0" width="29.30000000000001" height="38.400000000000006" fill="url(#pd)"/>
<rect x="501.7" y="169.4" width="29.30000000000001" height="38.19999999999999" fill="url(#pl)"/>
<rect x="501.7" y="207.6" width="29.30000000000001" height="38.599999999999994" fill="url(#pg)"/>
<rect x="501.7" y="246.2" width="29.30000000000001" height="38.19999999999999" fill="url(#po)"/>
<rect x="501.7" y="284.4" width="29.30000000000001" height="38.200000000000045" fill="url(#pb)"/>
<g stroke="#0c0c0c" stroke-width="1.5" fill="none">
<line x1="530.25" y1="92.8" x2="864.45" y2="92.8"/>
<line x1="500.95" y1="131.0" x2="864.45" y2="131.0"/>
<line x1="500.95" y1="169.4" x2="864.45" y2="169.4"/>
<line x1="500.95" y1="207.6" x2="864.45" y2="207.6"/>
<line x1="500.95" y1="246.2" x2="864.45" y2="246.2"/>
<line x1="500.95" y1="284.4" x2="864.45" y2="284.4"/>
<line x1="500.95" y1="322.6" x2="864.45" y2="322.6"/>
<line x1="531.0" y1="92.8" x2="531.0" y2="322.6"/>
<line x1="705.5" y1="92.8" x2="705.5" y2="322.6"/>
<line x1="758.1" y1="92.8" x2="758.1" y2="322.6"/>
<line x1="811.0" y1="92.8" x2="811.0" y2="322.6"/>
<line x1="863.7" y1="92.8" x2="863.7" y2="322.6"/>
<line x1="501.7" y1="131.0" x2="501.7" y2="322.6"/>
</g>
<text x="584.50" y="44.4" font-size="25" textLength="142.00" lengthAdjust="spacingAndGlyphs" font-family="Liberation Sans, sans-serif" fill="#111">ASEANCOF</text>
<text x="731.50" y="44.4" font-size="25" textLength="12.50" lengthAdjust="spacingAndGlyphs" font-family="Liberation Sans, sans-serif" fill="#111">–</text>
<text x="750.50" y="44.4" font-size="25" textLength="30.00" lengthAdjust="spacingAndGlyphs" font-family="Liberation Sans, sans-serif" fill="#111">25</text>
<text x="488.50" y="77.7" font-size="25" textLength="91.50" lengthAdjust="spacingAndGlyphs" font-family="Liberation Sans, sans-serif" fill="#111">Rainfall</text>
<text x="590.00" y="77.7" font-size="25" textLength="99.50" lengthAdjust="spacingAndGlyphs" font-family="Liberation Sans, sans-serif" fill="#111">Outlook</text>
<text x="694.00" y="77.7" font-size="25" textLength="44.50" lengthAdjust="spacingAndGlyphs" font-family="Liberation Sans, sans-serif" fill="#111">DJF</text>
<text x="743.00" y="77.7" font-size="25" textLength="132.00" lengthAdjust="spacingAndGlyphs" font-family="Liberation Sans, sans-serif" fill="#111">2025/2026</text>
<text x="542.8" y="114.3" font-size="15" font-weight="bold" textLength="72.5" lengthAdjust="spacingAndGlyphs" font-family="Liberation Sans, sans-serif" fill="#111">Category</text>
<text x="542.80" y="152.2" font-size="15" textLength="111.32" lengthAdjust="spacingAndGlyphs" font-family="Liberation Sans, sans-serif" fill="#111">Above-Normal</text>
<text x="656.22" y="152.2" font-size="15" textLength="33.10" lengthAdjust="spacingAndGlyphs" font-family="Liberation Sans, sans-serif" fill="#111">(AN)</text>
<text x="542.66" y="190.6" font-size="15" textLength="25.24" lengthAdjust="spacingAndGlyphs" font-family="Liberation Sans, sans-serif" fill="#111">NN</text>
<text x="571.02" y="190.6" font-size="15" textLength="14.42" lengthAdjust="spacingAndGlyphs" font-family="Liberation Sans, sans-serif" fill="#111">to</text>
<text x="590.02" y="190.6" font-size="15" textLength="24.22" lengthAdjust="spacingAndGlyphs" font-family="Liberation Sans, sans-serif" fill="#111">AN</text>
<text x="542.66" y="229.4" font-size="15" textLength="101.12" lengthAdjust="spacingAndGlyphs" font-family="Liberation Sans, sans-serif" fill="#111">Near-Normal</text>
<text x="646.00" y="229.4" font-size="15" textLength="35.44" lengthAdjust="spacingAndGlyphs" font-family="Liberation Sans, sans-serif" fill="#111">(NN)</text>
<text x="546.32" y="267.5" font-size="15" textLength="22.80" lengthAdjust="spacingAndGlyphs" font-family="Liberation Sans, sans-serif" fill="#111">BN</text>
<text x="572.24" y="267.5" font-size="15" textLength="14.52" lengthAdjust="spacingAndGlyphs" font-family="Liberation Sans, sans-serif" fill="#111">to</text>
<text x="591.44" y="267.5" font-size="15" textLength="25.80" lengthAdjust="spacingAndGlyphs" font-family="Liberation Sans, sans-serif" fill="#111">NN</text>
<text x="542.66" y="305.4" font-size="15" textLength="111.46" lengthAdjust="spacingAndGlyphs" font-family="Liberation Sans, sans-serif" fill="#111">Below-Normal</text>
<text x="656.22" y="305.4" font-size="15" textLength="33.10" lengthAdjust="spacingAndGlyphs" font-family="Liberation Sans, sans-serif" fill="#111">(BN)</text>
<text x="719.9" y="114.0" font-size="15" font-weight="bold" textLength="23.0" lengthAdjust="spacingAndGlyphs" font-family="Liberation Sans, sans-serif" fill="#111">AN</text>
<text x="771.5" y="114.0" font-size="15" font-weight="bold" textLength="25.4" lengthAdjust="spacingAndGlyphs" font-family="Liberation Sans, sans-serif" fill="#111">NN</text>
<text x="824.9" y="114.0" font-size="15" font-weight="bold" textLength="23.4" lengthAdjust="spacingAndGlyphs" font-family="Liberation Sans, sans-serif" fill="#111">BN</text>
<text x="722.1" y="152.0" font-size="15" textLength="18.6" lengthAdjust="spacingAndGlyphs" font-family="Liberation Sans, sans-serif" fill="#111">50</text>
<text x="774.9000000000001" y="152.0" font-size="15" textLength="18.6" lengthAdjust="spacingAndGlyphs" font-family="Liberation Sans, sans-serif" fill="#111">30</text>
<text x="827.3000000000001" y="152.0" font-size="15" textLength="18.6" lengthAdjust="spacingAndGlyphs" font-family="Liberation Sans, sans-serif" fill="#111">20</text>
<text x="722.1" y="190.5" font-size="15" textLength="18.6" lengthAdjust="spacingAndGlyphs" font-family="Liberation Sans, sans-serif" fill="#111">40</text>
<text x="774.9000000000001" y="190.5" font-size="15" textLength="18.6" lengthAdjust="spacingAndGlyphs" font-family="Liberation Sans, sans-serif" fill="#111">40</text>
<text x="827.3000000000001" y="190.5" font-size="15" textLength="18.6" lengthAdjust="spacingAndGlyphs" font-family="Liberation Sans, sans-serif" fill="#111">20</text>
<text x="722.1" y="229.4" font-size="15" textLength="18.6" lengthAdjust="spacingAndGlyphs" font-family="Liberation Sans, sans-serif" fill="#111">30</text>
<text x="774.9000000000001" y="229.4" font-size="15" textLength="18.6" lengthAdjust="spacingAndGlyphs" font-family="Liberation Sans, sans-serif" fill="#111">40</text>
<text x="827.3000000000001" y="229.4" font-size="15" textLength="18.6" lengthAdjust="spacingAndGlyphs" font-family="Liberation Sans, sans-serif" fill="#111">30</text>
<text x="722.1" y="267.3" font-size="15" textLength="18.6" lengthAdjust="spacingAndGlyphs" font-family="Liberation Sans, sans-serif" fill="#111">20</text>
<text x="774.9000000000001" y="267.3" font-size="15" textLength="18.6" lengthAdjust="spacingAndGlyphs" font-family="Liberation Sans, sans-serif" fill="#111">40</text>
<text x="827.3000000000001" y="267.3" font-size="15" textLength="18.6" lengthAdjust="spacingAndGlyphs" font-family="Liberation Sans, sans-serif" fill="#111">40</text>
<text x="722.1" y="305.5" font-size="15" textLength="18.6" lengthAdjust="spacingAndGlyphs" font-family="Liberation Sans, sans-serif" fill="#111">20</text>
<text x="774.9000000000001" y="305.5" font-size="15" textLength="18.6" lengthAdjust="spacingAndGlyphs" font-family="Liberation Sans, sans-serif" fill="#111">30</text>
<text x="827.3000000000001" y="305.5" font-size="15" textLength="18.6" lengthAdjust="spacingAndGlyphs" font-family="Liberation Sans, sans-serif" fill="#111">50</text>
</g>
<!-- frame -->
<g shape-rendering="crispEdges">
<rect x="0" y="0" width="890" height="1" fill="#003333"/>
<rect x="0" y="1" width="890" height="1" fill="#001c1c"/>
<rect x="2" y="2" width="886" height="1" fill="#c4e2e6"/>
<rect x="0" y="2" width="1" height="462" fill="#001533"/>
<rect x="1" y="2" width="1" height="462" fill="#000033"/>
<rect x="2" y="3" width="1" height="458" fill="#ccd6ea"/>
<rect x="2" y="461" width="886" height="1" fill="#8c8c9a"/>
<rect x="0" y="462" width="890" height="1" fill="#000a33"/>
<rect x="0" y="463" width="890" height="1" fill="#00182e"/>
<rect x="887" y="3" width="1" height="458" fill="#c8dcea"/>
<rect x="888" y="2" width="1" height="462" fill="#001a26"/>
<rect x="889" y="2" width="1" height="462" fill="#00263a"/>
<rect x="890" y="0" width="13" height="464" fill="#000000"/>
</g>
</svg>
</body></html>
